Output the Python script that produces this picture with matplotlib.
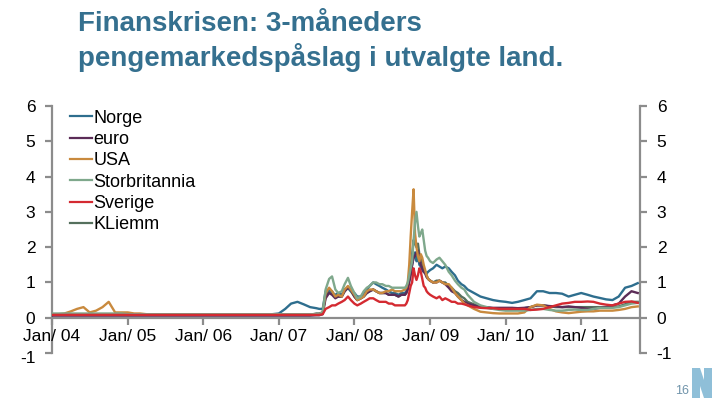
import numpy as np
import pandas as pd
import matplotlib
matplotlib.use("Agg")
import matplotlib.pyplot as plt
import matplotlib.transforms as mtransforms
from matplotlib.patches import Polygon

plt.rcParams['font.family'] = ['Liberation Sans', 'DejaVu Sans']
plt.rcParams['axes.unicode_minus'] = False

# ---- sample dates (irregular spacing: finer around the crisis) ----
dates = pd.DatetimeIndex(
    list(pd.date_range("2004-01-01", "2007-06-01", freq="MS"))
    + list(pd.date_range("2007-07-01", "2008-08-31", freq="SMS"))
    + list(pd.date_range("2008-09-01", "2008-12-22", freq="7D"))
    + list(pd.date_range("2009-01-01", "2009-06-30", freq="SMS"))
    + list(pd.date_range("2009-07-01", "2011-10-01", freq="MS"))
)

# segment A: monthly 2004-01 .. 2007-06 (42)
# segment B: semi-monthly 2007-07 .. 2008-08 (28)
# segment C: weekly 2008-09-01 .. 2008-12-22 (17)
# segment D: semi-monthly 2009-01 .. 2009-06 (12)
# segment E: monthly 2009-07 .. 2011-10 (28)

norge = (
    [0.1] * 36 + [0.12, 0.25, 0.4, 0.45, 0.38, 0.3]
    + [0.27, 0.25, 0.25, 0.75, 0.8, 0.7, 0.65, 0.7, 0.65, 0.8, 0.85, 0.75, 0.7, 0.6,
       0.6, 0.7, 0.8, 0.9, 1.0, 0.95, 0.9, 0.85, 0.8, 0.75, 0.7, 0.7, 0.65, 0.7]
    + [0.7, 0.75, 0.9, 1.1, 1.3, 1.5, 1.7, 1.85, 1.6, 1.75, 1.5, 1.45, 1.35, 1.3, 1.3, 1.25, 1.3]
    + [1.35, 1.4, 1.5, 1.45, 1.4, 1.45, 1.4, 1.3, 1.2, 1.05, 0.95, 0.9]
    + [0.8, 0.7, 0.6, 0.55, 0.5, 0.47, 0.45, 0.42, 0.45, 0.5, 0.55, 0.75, 0.75, 0.7,
       0.7, 0.68, 0.6, 0.65, 0.7, 0.65, 0.6, 0.56, 0.52, 0.5, 0.6, 0.85, 0.9, 0.98]
)
euro = (
    [0.06] * 42
    + [0.07, 0.07, 0.1, 0.55, 0.7, 0.65, 0.55, 0.6, 0.6, 0.75, 0.85, 0.8, 0.6, 0.5,
       0.55, 0.6, 0.7, 0.75, 0.8, 0.75, 0.7, 0.7, 0.7, 0.65, 0.65, 0.65, 0.6, 0.65]
    + [0.65, 0.7, 0.8, 1.0, 1.2, 1.5, 1.7, 1.75, 1.85, 1.9, 1.7, 1.5, 1.4, 1.3, 1.25, 1.15, 1.1]
    + [1.05, 1.0, 1.0, 1.05, 1.0, 0.95, 0.85, 0.75, 0.7, 0.6, 0.5, 0.45]
    + [0.4, 0.35, 0.3, 0.3, 0.28, 0.28, 0.28, 0.28, 0.27, 0.28, 0.3, 0.35, 0.35, 0.33,
       0.32, 0.3, 0.32, 0.3, 0.28, 0.25, 0.25, 0.28, 0.3, 0.35, 0.4, 0.6, 0.75, 0.7]
)
usa = (
    [0.1, 0.1, 0.12, 0.18, 0.25, 0.3, 0.15, 0.2, 0.3, 0.45, 0.15, 0.15,
     0.15, 0.12, 0.12, 0.1] + [0.1] * 26
    + [0.1, 0.1, 0.15, 0.7, 0.85, 0.75, 0.6, 0.65, 0.6, 0.8, 0.9, 0.8, 0.65, 0.5,
       0.55, 0.6, 0.75, 0.8, 0.8, 0.75, 0.7, 0.7, 0.75, 0.75, 0.8, 0.75, 0.75, 0.75]
    + [0.8, 0.85, 1.0, 1.5, 2.3, 3.0, 3.64, 2.4, 2.0, 1.75, 1.6, 1.8, 1.7, 1.5, 1.35, 1.2, 1.1]
    + [1.05, 1.0, 1.0, 1.05, 1.0, 0.95, 0.95, 0.85, 0.7, 0.6, 0.5, 0.4]
    + [0.35, 0.25, 0.17, 0.15, 0.13, 0.12, 0.12, 0.12, 0.12, 0.15, 0.3, 0.37, 0.35, 0.25,
       0.18, 0.15, 0.13, 0.15, 0.17, 0.18, 0.18, 0.2, 0.2, 0.2, 0.22, 0.25, 0.3, 0.32]
)
storbritannia = (
    [0.12] * 12 + [0.1] * 30
    + [0.1, 0.1, 0.15, 0.8, 1.1, 1.17, 0.8, 0.7, 0.75, 0.95, 1.13, 0.9, 0.7, 0.55,
       0.6, 0.75, 0.85, 0.9, 1.0, 1.0, 0.95, 0.95, 0.9, 0.9, 0.85, 0.85, 0.85, 0.85]
    + [0.85, 0.9, 1.0, 1.2, 1.4, 1.6, 2.2, 2.7, 3.0, 2.6, 2.3, 2.4, 2.5, 2.2, 1.9, 1.75, 1.7]
    + [1.6, 1.55, 1.65, 1.7, 1.6, 1.5, 1.3, 1.2, 1.05, 0.95, 0.85, 0.8]
    + [0.65, 0.45, 0.35, 0.3, 0.25, 0.22, 0.2, 0.2, 0.2, 0.2, 0.22, 0.25, 0.25, 0.22,
       0.2, 0.2, 0.22, 0.23, 0.22, 0.22, 0.25, 0.28, 0.28, 0.28, 0.3, 0.35, 0.4, 0.42]
)
sverige = (
    [0.08] * 42
    + [0.08, 0.08, 0.1, 0.25, 0.3, 0.35, 0.35, 0.4, 0.45, 0.5, 0.6, 0.5, 0.4, 0.35,
       0.4, 0.45, 0.5, 0.55, 0.55, 0.5, 0.45, 0.45, 0.45, 0.4, 0.4, 0.35, 0.35, 0.35]
    + [0.35, 0.4, 0.5, 0.7, 0.9, 1.0, 1.4, 1.2, 1.07, 1.2, 1.4, 1.3, 1.1, 0.9, 0.85, 0.75, 0.7]
    + [0.65, 0.6, 0.55, 0.6, 0.5, 0.55, 0.5, 0.45, 0.45, 0.4, 0.4, 0.38]
    + [0.35, 0.3, 0.28, 0.27, 0.27, 0.25, 0.25, 0.25, 0.25, 0.25, 0.22, 0.23, 0.25, 0.3,
       0.35, 0.4, 0.42, 0.45, 0.45, 0.46, 0.45, 0.4, 0.37, 0.35, 0.4, 0.45, 0.46, 0.42]
)
kliemm = (
    [0.08] * 42
    + [0.12, 0.12, 0.15, 0.6, 0.75, 0.75, 0.6, 0.6, 0.6, 0.75, 0.85, 0.75, 0.6, 0.5,
       0.55, 0.6, 0.7, 0.75, 0.8, 0.75, 0.7, 0.7, 0.7, 0.65, 0.65, 0.65, 0.6, 0.65]
    + [0.65, 0.7, 0.85, 1.1, 1.4, 1.8, 2.2, 2.1, 2.0, 2.1, 1.8, 1.7, 1.55, 1.4, 1.3, 1.2, 1.1]
    + [1.05, 1.0, 1.05, 1.05, 1.0, 1.0, 0.9, 0.85, 0.75, 0.7, 0.6, 0.55]
    + [0.45, 0.38, 0.32, 0.28, 0.25, 0.25, 0.25, 0.25, 0.25, 0.27, 0.3, 0.35, 0.35, 0.32,
       0.3, 0.3, 0.3, 0.3, 0.3, 0.3, 0.3, 0.3, 0.3, 0.3, 0.32, 0.38, 0.45, 0.45]
)

series_names = ["Norge", "euro", "USA", "Storbritannia", "Sverige", "KLiemm"]
series_values = [norge, euro, usa, storbritannia, sverige, kliemm]
series_colors = ["#2e6e8e", "#5b2c57", "#c98a3e", "#7fa88c", "#d42a31", "#55705d"]
series_z = [3, 3.2, 3.4, 3.6, 4, 2.5]

x_tick_dates = ["2004-01-01", "2005-01-01", "2006-01-01", "2007-01-01",
                "2008-01-01", "2009-01-01", "2010-01-01", "2011-01-01"]
x_tick_labels = ["Jan/ 04", "Jan/ 05", "Jan/ 06", "Jan/ 07",
                 "Jan/ 08", "Jan/ 09", "Jan/ 10", "Jan/ 11"]
y_ticks = [-1, 0, 1, 2, 3, 4, 5, 6]

title_line1 = "Finanskrisen: 3-måneders"
title_line2 = "pengemarkedspåslag i utvalgte land."

fig = plt.figure(figsize=(7.2, 4.05), dpi=100)
ax = fig.add_axes([52 / 720, 1 - 353 / 405, (640 - 52) / 720, (353 - 106) / 405])

for name, vals, col, z in zip(series_names, series_values, series_colors, series_z):
    ax.plot(dates, vals, color=col, lw=1.7, label=name, zorder=z, solid_joinstyle='round')

ax.set_xlim(pd.Timestamp("2004-01-01"), pd.Timestamp("2011-10-12"))
ax.set_ylim(-1, 6)

spine_col = "#8c8c8c"
ax.spines['top'].set_visible(False)
ax.spines['bottom'].set_position(('data', 0))
for s in ['left', 'right', 'bottom']:
    ax.spines[s].set_color(spine_col)
    ax.spines[s].set_linewidth(1.6)
    ax.spines[s].set_zorder(1)

ax.set_xticks(pd.to_datetime(x_tick_dates))
ax.set_xticklabels(x_tick_labels)
ax.set_yticks(y_ticks)
ax.tick_params(axis='x', direction='out', length=5, width=1.6, color=spine_col,
               labelsize=12.5, pad=3)
ax.tick_params(axis='y', direction='out', length=5, width=1.6, color=spine_col,
               labelsize=12.5, left=True, right=True, labelleft=True, labelright=True, pad=7)

# nudge the left "-1" label a little downward so it clears "Jan/ 04"
fig.canvas.draw()
low_label = ax.yaxis.get_majorticklabels()[0]
low_label.set_transform(low_label.get_transform()
                        + mtransforms.ScaledTranslation(0, -3 / 72, fig.dpi_scale_trans))

leg = ax.legend(loc='upper left', bbox_to_anchor=(0.019, 1.015), frameon=False,
                fontsize=13, handlelength=1.2, handletextpad=0.08, labelspacing=0.24,
                borderaxespad=0)
for h in leg.get_lines():
    h.set_linewidth(1.6)

fig.text(78 / 720, 1 - 31 / 405, title_line1, fontsize=20, fontweight='bold',
         color="#35708f", va='baseline', ha='left')
fig.text(78 / 720, 1 - 66 / 405, title_line2, fontsize=20, fontweight='bold',
         color="#35708f", va='baseline', ha='left')

# page number and logo mark
logo = Polygon([[692 / 720, 1 - 398 / 405], [692 / 720, 1 - 368 / 405],
                [700 / 720, 1 - 368 / 405], [704 / 720, 1 - 380 / 405],
                [704 / 720, 1 - 368 / 405], [712 / 720, 1 - 368 / 405],
                [712 / 720, 1 - 398 / 405], [704 / 720, 1 - 398 / 405],
                [700 / 720, 1 - 386 / 405], [700 / 720, 1 - 398 / 405]],
               closed=True, transform=fig.transFigure, facecolor="#8fbfd8",
               edgecolor='none', zorder=1)
fig.patches.append(logo)
fig.text(682 / 720, 1 - 391 / 405, "16", fontsize=9, color="#6f93aa",
         ha='center', va='center', zorder=2)

fig.savefig("out.png", dpi=100)
